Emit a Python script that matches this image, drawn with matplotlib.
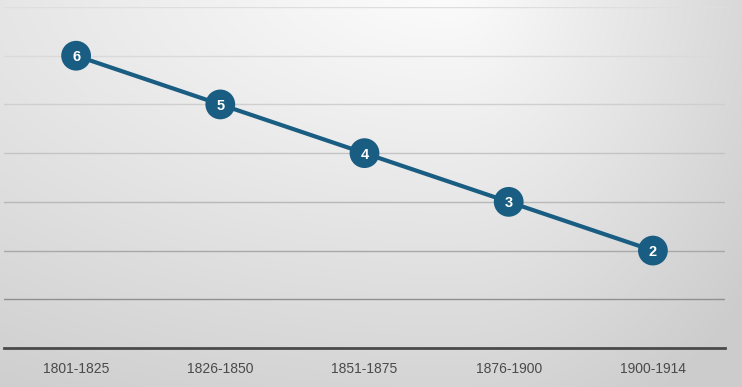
import numpy as np
import matplotlib
matplotlib.use("Agg")
import matplotlib.pyplot as plt

categories = ["1801-1825", "1826-1850", "1851-1875", "1876-1900", "1900-1914"]
values = [6, 5, 4, 3, 2]

W, H, DPI = 742, 387, 100
fig = plt.figure(figsize=(W / DPI, H / DPI), dpi=DPI)

# background gradient
bg = fig.add_axes([0, 0, 1, 1], zorder=0)
yy, xx = np.mgrid[0:H, 0:W]
cx, cy = 450, -30
dx = np.where(xx > cx, (xx - cx) * 2.4, (cx - xx) * 1.0)
dy = (yy - cy) * 1.85
d = np.sqrt(dx ** 2 + dy ** 2)
t = np.clip(d / 940, 0, 1)
top, bot = 0.995, 0.80
g = top + (bot - top) * t
img = np.dstack([g, g, g])
bg.imshow(img, aspect="auto", extent=[0, 1, 0, 1], origin="upper")
bg.set_axis_off()

ax = fig.add_axes([4 / W, 39 / H, 721 / W, 341 / H], zorder=1)
ax.patch.set_alpha(0)
x = np.arange(len(categories))
ax.plot(x, values, color="#1a5d82", lw=3, zorder=3, solid_capstyle="round")
ax.scatter(x, values, s=460, color="#1a5d82", zorder=4, edgecolors="none")
for xi, v in zip(x, values):
    ax.text(xi, v, str(v), color="white", fontsize=10.5, fontweight="bold",
            ha="center", va="center_baseline", family="Liberation Sans", zorder=5)

ax.set_xlim(-0.5, len(categories) - 0.5)
ax.set_ylim(0, 7)
ax.set_yticks(range(0, 8))
ax.yaxis.grid(True, lw=1)
ax.set_axisbelow(True)
glines = ax.get_ygridlines()
gcols = ["#bdbdbd", "#909090", "#a8a8a8", "#b8b8b8", "#c4c4c4", "#cfcfcf", "#dadada", "#dedede"]
for gl, c in zip(glines, gcols):
    gl.set_color(c)
glines[0].set_visible(False)
ax.tick_params(axis="y", left=False, labelleft=False)
ax.set_xticks(x)
ax.set_xticklabels(categories, fontsize=10, color="#4a4a4a", family="Liberation Sans")
ax.tick_params(axis="x", length=0, pad=10)
for s in ["top", "right", "left"]:
    ax.spines[s].set_visible(False)
ax.spines["bottom"].set_color("#4a4a4a")
ax.spines["bottom"].set_linewidth(2)

fig.savefig("out.png", dpi=DPI)
